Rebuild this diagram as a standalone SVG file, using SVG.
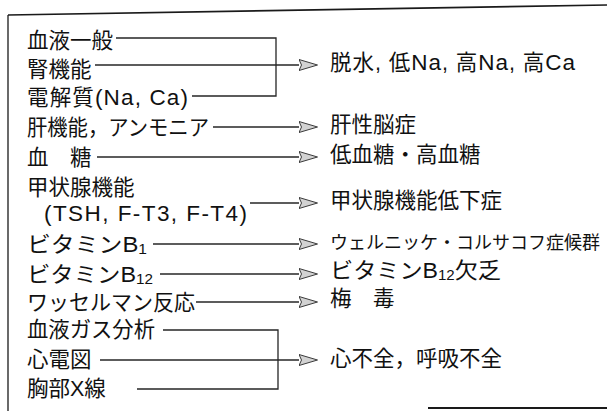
<svg xmlns="http://www.w3.org/2000/svg" width="607" height="411" viewBox="0 0 607 411">
<style>
.t{font-family:"Liberation Sans","Noto Sans CJK JP",sans-serif;font-size:21.5px;fill:#111}
.s{font-size:14px}
.l{font-size:22.5px}
.c{stroke:#262626;stroke-width:1.3;fill:none}
.a{marker-end:url(#arr)}
.f{stroke:#1a1a1a;fill:none}
</style>
<defs>
<marker id="arr" markerUnits="userSpaceOnUse" markerWidth="21" markerHeight="14" refX="0.5" refY="7" orient="auto">
<path d="M0.5,1.5 L19,7 L0.5,12.5 L3,7 Z" fill="#d2d2d2" stroke="#3a3a3a" stroke-width="1"/>
</marker>
</defs>
<rect width="607" height="411" fill="#fff"/>
<g id="frame">
<path class="f" stroke-width="1.3" d="M8,15 V411"/>
<path class="f" stroke-width="1.6" d="M8,15 L607,5"/>
<path class="f" stroke-width="2" d="M428,408 H607"/>
</g>
<g id="connectors">
<path class="c" d="M116,38 H276 V96 H192"/>
<path class="c a" d="M95,65 H299"/>
<path class="c a" d="M213,127 H299"/>
<path class="c a" d="M97,157 H299"/>
<path class="c a" d="M250,203 H299"/>
<path class="c a" d="M153,244 H299"/>
<path class="c a" d="M160,274 H299"/>
<path class="c a" d="M196,302 H299"/>
<path class="c" d="M163,330 H278 V389 H137"/>
<path class="c a" d="M100,360 H299"/>
</g>
<g id="n-ketsueki"><text class="t" x="27" y="48">血液一般</text></g>
<g id="n-jin"><text class="t" x="27" y="77">腎機能</text></g>
<g id="n-denkai"><text class="t" x="27" y="105" textLength="161">電解質<tspan class="l">(Na, Ca)</tspan></text></g>
<g id="n-kan"><text class="t" x="27" y="135" textLength="182" lengthAdjust="spacingAndGlyphs">肝機能，アンモニア</text></g>
<g id="n-ketto"><text class="t" x="27" y="165">血　糖</text></g>
<g id="n-kojo"><text class="t" x="27" y="195">甲状腺機能</text><text class="t l" x="44" y="221" textLength="203">(TSH, F-T3, F-T4)</text></g>
<g id="n-b1"><text class="t" x="27" y="252" textLength="120" lengthAdjust="spacingAndGlyphs">ビタミンB<tspan class="s" dy="2">1</tspan></text></g>
<g id="n-b12"><text class="t" x="27" y="282" textLength="126" lengthAdjust="spacingAndGlyphs">ビタミンB<tspan class="s" dy="2">12</tspan></text></g>
<g id="n-wasser"><text class="t" x="27" y="310" textLength="168" lengthAdjust="spacingAndGlyphs">ワッセルマン反応</text></g>
<g id="n-gas"><text class="t" x="27" y="337" textLength="128" lengthAdjust="spacingAndGlyphs">血液ガス分析</text></g>
<g id="n-ecg"><text class="t" x="27" y="367">心電図</text></g>
<g id="n-xray"><text class="t" x="27" y="396">胸部X線</text></g>
<g id="r-dassui"><text class="t" x="330" y="70" textLength="245">脱水, 低<tspan class="l">Na</tspan>, 高<tspan class="l">Na</tspan>, 高<tspan class="l">Ca</tspan></text></g>
<g id="r-kansei"><text class="t" x="330" y="132">肝性脳症</text></g>
<g id="r-ketto"><text class="t" x="330" y="162">低血糖・高血糖</text></g>
<g id="r-kojo"><text class="t" x="330" y="208">甲状腺機能低下症</text></g>
<g id="r-wernicke"><text x="330" y="249" style="font-family:'Liberation Sans','Noto Sans CJK JP',sans-serif;font-size:18px;fill:#111">ウェルニッケ・コルサコフ症候群</text></g>
<g id="r-b12"><text class="t" x="330" y="278" textLength="171" lengthAdjust="spacingAndGlyphs">ビタミンB<tspan class="s" dy="2">12</tspan><tspan dy="-2">欠乏</tspan></text></g>
<g id="r-baidoku"><text class="t" x="330" y="306">梅　毒</text></g>
<g id="r-fuzen"><text class="t" x="330" y="366">心不全，呼吸不全</text></g>
</svg>
